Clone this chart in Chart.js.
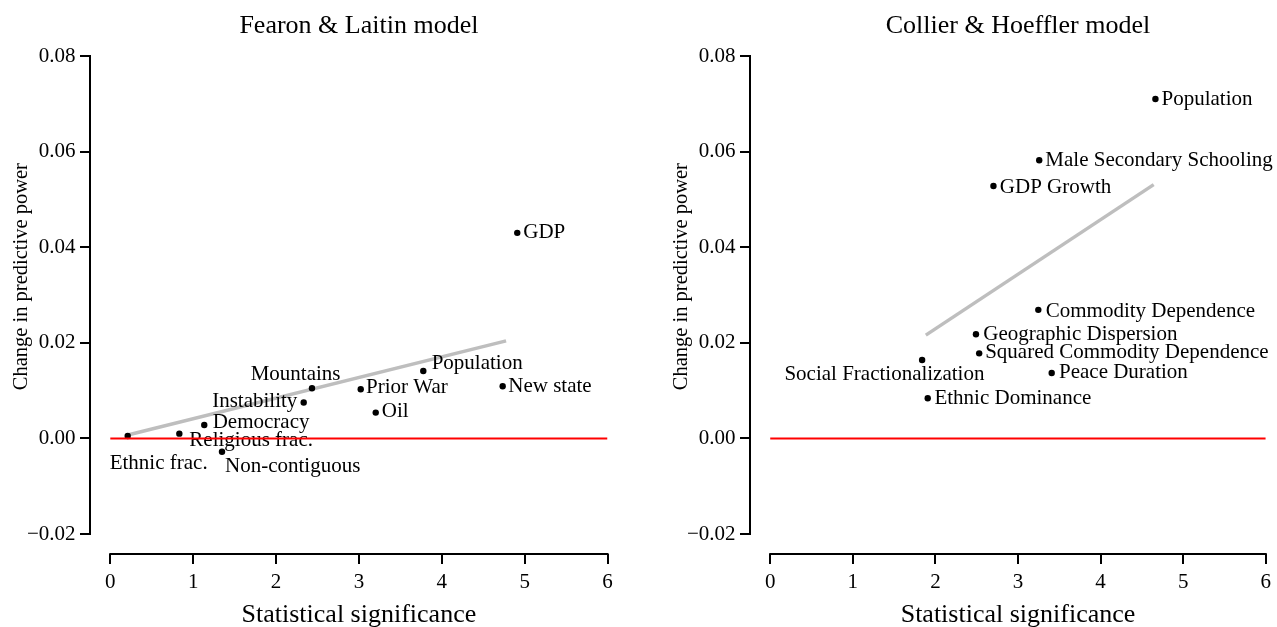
<!DOCTYPE html>
<html><head><meta charset="utf-8">
<script src="https://cdn.jsdelivr.net/npm/chart.js@4.4.0/dist/chart.umd.min.js"></script>
<style>
html,body{margin:0;padding:0;background:#fff;}
#wrap{position:relative;width:1277px;height:627px;overflow:hidden;background:#fff;}
canvas{position:absolute;top:0;}
#c1{left:0;} #c2{left:660px;}
</style></head><body>
<div id="wrap"><canvas id="c1" width="660" height="627"></canvas><canvas id="c2" width="617" height="627"></canvas></div>
<script>
// ---- tick labels ----
const xTickValues = [0, 1, 2, 3, 4, 5, 6];
const xTickLabels = ["0", "1", "2", "3", "4", "5", "6"];
const yTickValues = [-0.02, 0, 0.02, 0.04, 0.06, 0.08];
const yTickLabels = ["\u22120.02", "0.00", "0.02", "0.04", "0.06", "0.08"];

// ---- Fearon & Laitin model ----
const flVariables = ["Ethnic frac.", "Religious frac.", "Democracy", "Non-contiguous", "Instability",
  "Mountains", "Prior War", "Oil", "Population", "New state", "GDP"];
const flSignificance = [0.210, 0.833, 1.134, 1.348, 2.334, 2.434, 3.022, 3.203, 3.777, 4.735, 4.911];
const flChange = [0.0005, 0.0010, 0.0028, -0.0028, 0.0075, 0.0105, 0.0103, 0.0054, 0.0141, 0.0109, 0.0430];
const flFitSignificance = [0.211, 4.776];
const flFitChange = [0.0007, 0.0204];

// ---- Collier & Hoeffler model ----
const chVariables = ["Population", "Male Secondary Schooling", "GDP Growth", "Commodity Dependence",
  "Geographic Dispersion", "Squared Commodity Dependence", "Social Fractionalization",
  "Peace Duration", "Ethnic Dominance"];
const chSignificance = [4.664, 3.257, 2.703, 3.246, 2.491, 2.530, 1.839, 3.408, 1.907];
const chChange = [0.0710, 0.0582, 0.0528, 0.0269, 0.0218, 0.0178, 0.0164, 0.0137, 0.0084];
const chFitSignificance = [1.884, 4.643];
const chFitChange = [0.0216, 0.0531];

// ---- reference (zero) line ----
const zeroLineX = [0, 6];
const zeroLineY = [0, 0];

// ---- label placement (style config: pixel offsets of the text from its point) ----
const flPlacement = {
  "Ethnic frac.": {dx: -18, dy: 33},
  "Religious frac.": {dx: 10, dy: 12},
  "Democracy": {dx: 8.4, dy: 3},
  "Non-contiguous": {dx: 3, dy: 20},
  "Instability": {dx: -6.4, dy: 4.4, align: "right"},
  "Mountains": {dx: -61.3, dy: -8.3},
  "Prior War": {dx: 5.3, dy: 4.3},
  "Oil": {dx: 6, dy: 4.6},
  "Population": {dx: 8.4, dy: -2.4},
  "New state": {dx: 5.6, dy: 6},
  "GDP": {dx: 6, dy: 5.6}
};
const chPlacement = {
  "Population": {dx: 6.1, dy: 6},
  "Male Secondary Schooling": {dx: 6.1, dy: 6},
  "GDP Growth": {dx: 6.4, dy: 7.3},
  "Commodity Dependence": {dx: 7.4, dy: 7.3},
  "Geographic Dispersion": {dx: 7.3, dy: 5.7},
  "Squared Commodity Dependence": {dx: 6, dy: 4.4},
  "Social Fractionalization": {dx: -137.7, dy: 20},
  "Peace Duration": {dx: 7.3, dy: 4.6},
  "Ethnic Dominance": {dx: 6.7, dy: 6}
};

const FONT = "'Liberation Serif', 'Times New Roman', serif";

function makeChart(id, canvasWidth, title, names, xs, ys, fitX, fitY, placement) {
  const pts = xs.map((x, i) => ({x: x, y: ys[i]}));
  const fit = fitX.map((x, i) => ({x: x, y: fitY[i]}));
  const zero = zeroLineX.map((x, i) => ({x: x, y: zeroLineY[i]}));

  const decor = {
    id: 'decor',
    afterDatasetDraw(chart, args) {
      if (args.index !== 1) return;
      const ctx = chart.ctx, xs_ = chart.scales.x, ys_ = chart.scales.y;
      ctx.save();
      ctx.fillStyle = '#000';
      ctx.font = "21px " + FONT;
      ctx.textBaseline = 'alphabetic';
      names.forEach((n, i) => {
        const p = placement[n] || {dx: 6, dy: 5};
        ctx.textAlign = p.align || 'left';
        ctx.fillText(n, xs_.getPixelForValue(xs[i]) + p.dx, ys_.getPixelForValue(ys[i]) + p.dy);
      });
      ctx.restore();
    },
    afterDraw(chart) {
      const ctx = chart.ctx, xs_ = chart.scales.x, ys_ = chart.scales.y, ca = chart.chartArea;
      ctx.save();
      ctx.strokeStyle = '#000';
      ctx.lineWidth = 2;
      ctx.beginPath();
      ctx.moveTo(ca.left, ys_.getPixelForValue(yTickValues[yTickValues.length - 1]) - 1);
      ctx.lineTo(ca.left, ys_.getPixelForValue(yTickValues[0]) + 1);
      ctx.moveTo(xs_.getPixelForValue(xTickValues[0]) - 1, ca.bottom);
      ctx.lineTo(xs_.getPixelForValue(xTickValues[xTickValues.length - 1]) + 1, ca.bottom);
      ctx.stroke();
      const cx = (xs_.getPixelForValue(xTickValues[0]) + xs_.getPixelForValue(xTickValues[xTickValues.length - 1])) / 2;
      ctx.fillStyle = '#000';
      ctx.textAlign = 'center';
      ctx.textBaseline = 'alphabetic';
      ctx.font = "26px " + FONT;
      ctx.fillText(title, cx, 33);
      ctx.fillText("Statistical significance", cx, 621.5);
      ctx.save();
      ctx.translate(26.7, ca.top + 220.7);
      ctx.rotate(-Math.PI / 2);
      ctx.font = "20.5px " + FONT;
      ctx.fillText("Change in predictive power", 0, 0);
      ctx.restore();
      ctx.restore();
    }
  };

  return new Chart(document.getElementById(id), {
    type: 'scatter',
    data: {
      datasets: [
        {type: 'line', data: fit, borderColor: '#bebebe', borderWidth: 3.5, pointRadius: 0, order: 3, borderCapStyle: 'butt'},
        {data: pts, backgroundColor: '#000', borderColor: '#000', pointRadius: 3.2, borderWidth: 0, order: 2},
        {type: 'line', data: zero, borderColor: '#ff0000', borderWidth: 2, pointRadius: 0, order: 1}
      ]
    },
    options: {
      responsive: false, animation: false, devicePixelRatio: 1,
      layout: {padding: {left: 0, top: 56, right: canvasWidth - 607.5, bottom: 0}},
      plugins: {legend: {display: false}, tooltip: {enabled: false}, title: {display: false}},
      scales: {
        x: {
          type: 'linear', position: 'bottom', min: -0.245, max: 6,
          afterBuildTicks: s => { s.ticks = xTickValues.map(v => ({value: v})); },
          afterFit: s => { s.height = 73; },
          grid: {drawOnChartArea: false, drawTicks: true, tickLength: 10, lineWidth: 2, color: '#000', tickColor: '#000'},
          border: {display: false},
          ticks: {padding: 6, color: '#000', font: {family: FONT, size: 21}, maxRotation: 0, autoSkip: false,
            callback: (v, i) => xTickLabels[i]}
        },
        y: {
          type: 'linear', position: 'left', min: -0.02418, max: 0.08,
          afterBuildTicks: s => { s.ticks = yTickValues.map(v => ({value: v})); },
          afterFit: s => { s.width = 90; },
          grid: {drawOnChartArea: false, drawTicks: true, tickLength: 10, lineWidth: 2, color: '#000', tickColor: '#000'},
          border: {display: false},
          ticks: {padding: 4.5, color: '#000', font: {family: FONT, size: 21}, autoSkip: false,
            callback: (v, i) => yTickLabels[i]}
        }
      }
    },
    plugins: [decor]
  });
}

makeChart('c1', 660, "Fearon & Laitin model", flVariables, flSignificance, flChange, flFitSignificance, flFitChange, flPlacement);
makeChart('c2', 617, "Collier & Hoeffler model", chVariables, chSignificance, chChange, chFitSignificance, chFitChange, chPlacement);
</script>
</body></html>
